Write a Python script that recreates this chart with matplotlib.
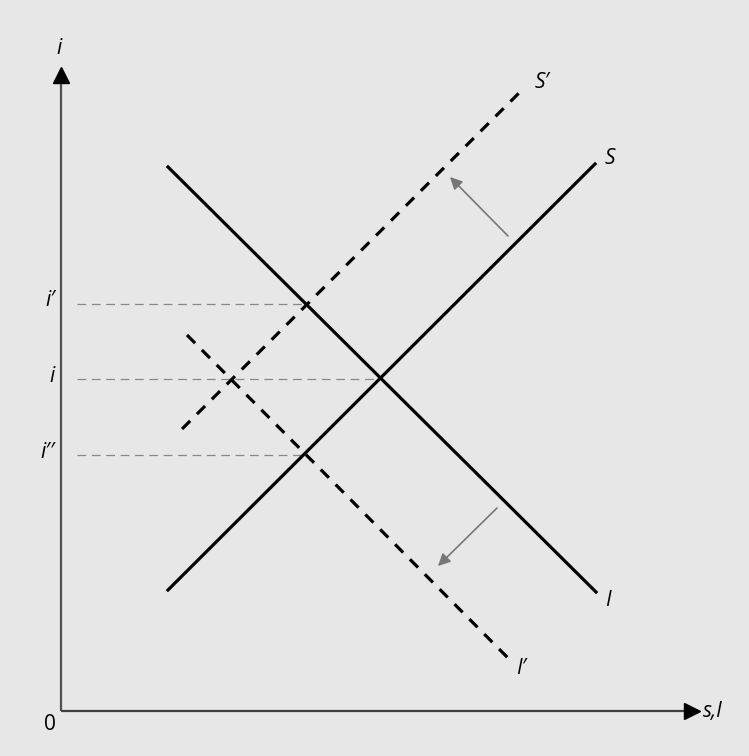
import matplotlib
matplotlib.use("Agg")
import matplotlib.pyplot as plt

# curve endpoints (origin at the axes corner, y up)
S_x, S_y = [107, 534], [121, 547]
I_x, I_y = [107, 535], [544, 119]
S2_x, S2_y = [121, 461], [282, 621]
I2_x, I2_y = [126, 449], [376, 51]

# interest rate levels and where their guide lines stop
levels = [407, 332, 256]
level_ends = [246, 319, 242]
level_labels = ["i\u2032", "i", "i\u2032\u2032"]

# shift arrows (start, end)
shift_arrows = [((447, 475), (389, 534)), ((436, 203), (377, 145))]

bg = "#e7e7e7"
fam = ["Open Sans", "DejaVu Sans"]

fig = plt.figure(figsize=(7.49, 7.56), dpi=100, facecolor=bg)
ax = fig.add_axes([0, 0, 1, 1], facecolor=bg)
ax.set_xlim(-61, 688)
ax.set_ylim(-45, 711)
ax.axis("off")

# axes with arrow heads
ax.plot([0, 0], [0, 635], color="#505050", lw=1.6, solid_capstyle="butt")
ax.plot([0, 628], [0, 0], color="#404040", lw=1.6, solid_capstyle="butt")
ax.plot([0], [636], marker="^", color="black", ms=12)
ax.plot([631], [0], marker=">", color="black", ms=12)

# horizontal guide lines
for lv, xe, lab in zip(levels, level_ends, level_labels):
    ax.plot([16, xe], [lv, lv], color="#888888", lw=0.9, dashes=(7, 4.5))
    ax.text(-6, lv + 3, lab, ha="right", va="center", fontsize=15,
            style="italic", family=fam)

# supply and investment curves
ax.plot(S_x, S_y, color="black", lw=2.3)
ax.plot(I_x, I_y, color="black", lw=2.3)
ax.plot(S2_x, S2_y, color="black", lw=2.3, dashes=(3.6, 3.0))
ax.plot(I2_x, I2_y, color="black", lw=2.3, dashes=(3.6, 3.0))

for (x0, y0), (x1, y1) in shift_arrows:
    ax.annotate("", xy=(x1, y1), xytext=(x0, y0),
                arrowprops=dict(arrowstyle="-|>", color="#777777", lw=1.2,
                                mutation_scale=18, shrinkA=0, shrinkB=0))

txt = dict(fontsize=15, style="italic", family=fam, va="center")
ax.text(474, 628, "S\u2032", ha="left", **txt)
ax.text(544, 552, "S", ha="left", **txt)
ax.text(544, 111, "I", ha="left", **txt)
ax.text(455, 43, "I\u2032", ha="left", **txt)
ax.text(-2, 663, "i", ha="center", **txt)
ax.text(642, 0, "s,I", ha="left", **txt)
ax.text(-11, -14, "0", ha="center", fontsize=15, family=fam, va="center")

fig.savefig("out.png", dpi=100, facecolor=bg)
